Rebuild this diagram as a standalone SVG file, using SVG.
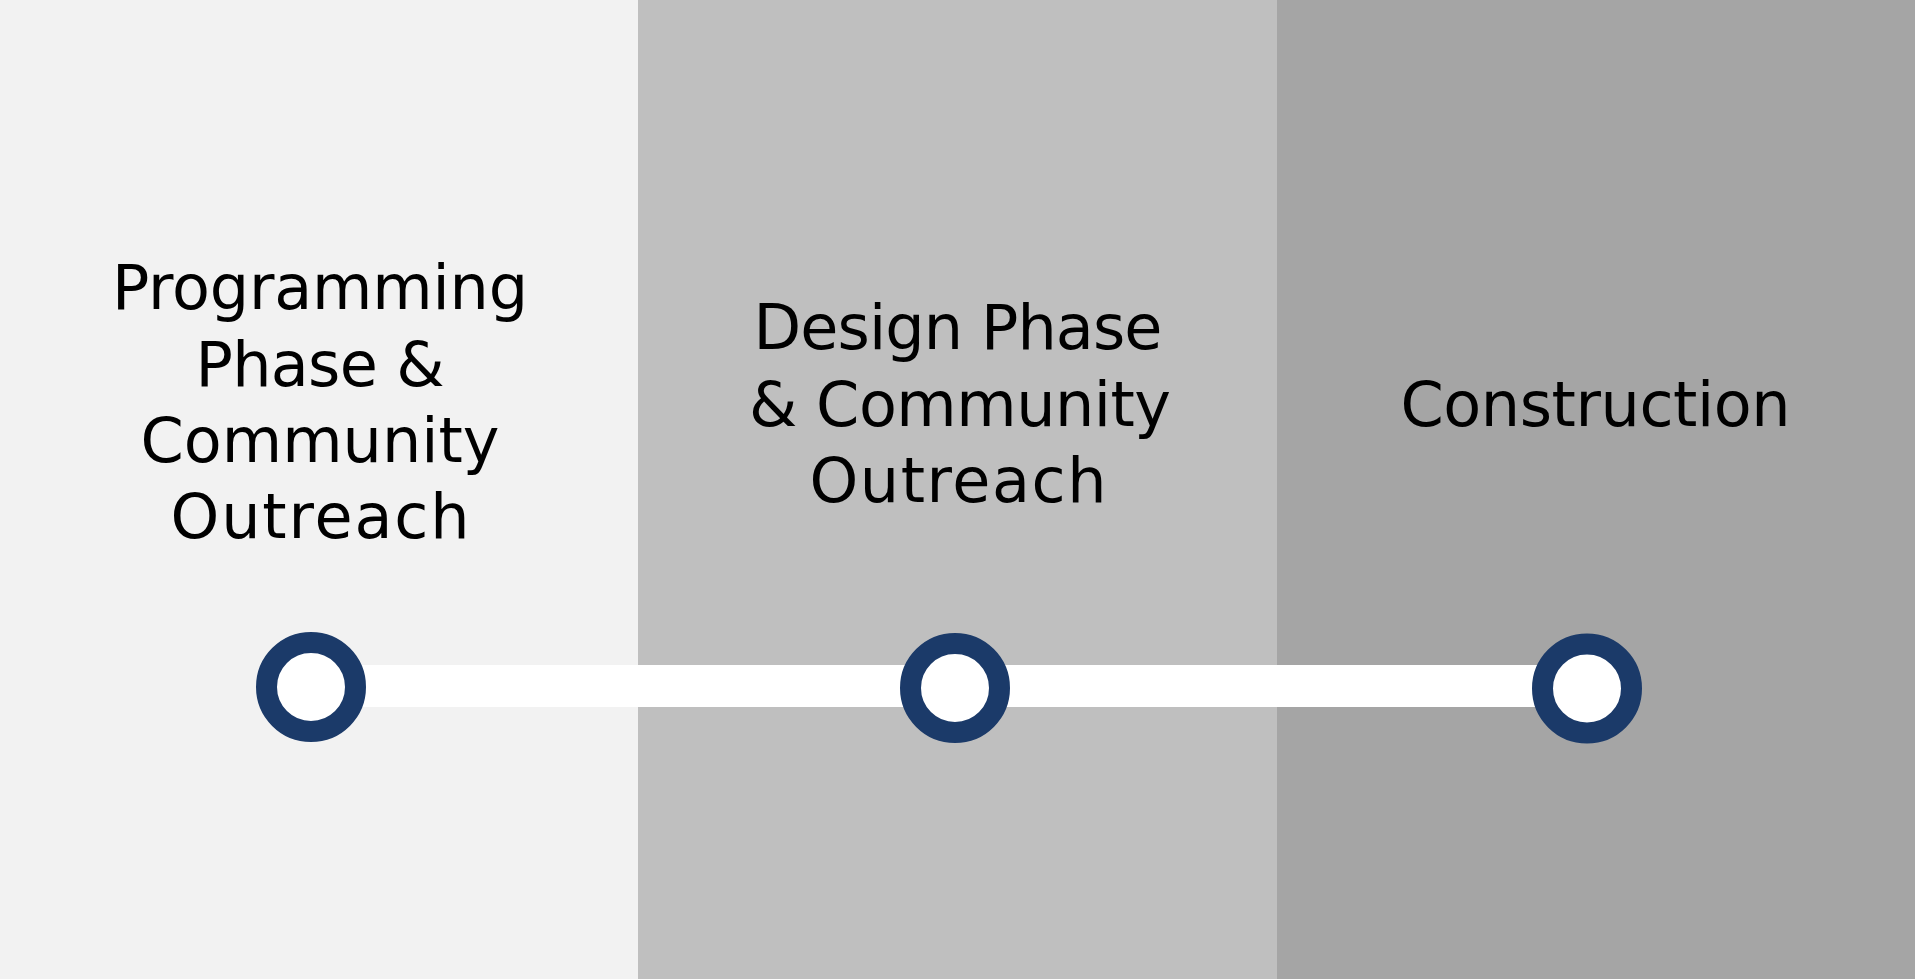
<svg xmlns="http://www.w3.org/2000/svg" width="1915" height="979" viewBox="0 0 1915 979">
  <style>
    .lbl { font-family: "DejaVu Sans", "Liberation Sans", sans-serif; font-size: 62px; fill: #000000; text-anchor: middle; }
    .ring { fill: #FFFFFF; stroke: #1B3A69; stroke-width: 21; }
  </style>
  <g id="background">
    <rect x="0" y="0" width="638" height="979" fill="#F2F2F2"/>
    <rect x="638" y="0" width="639" height="979" fill="#BFBFBF"/>
    <rect x="1277" y="0" width="638" height="979" fill="#A5A5A5"/>
  </g>
  <g id="connectors">
    <rect x="311" y="665" width="1276" height="42" fill="#FFFFFF"/>
  </g>
  <g id="node-programming">
    <text class="lbl" x="320" y="309" textLength="416" lengthAdjust="spacing">Programming</text>
    <text class="lbl" x="320" y="386" textLength="249" lengthAdjust="spacing">Phase &amp;</text>
    <text class="lbl" x="320" y="462" textLength="359" lengthAdjust="spacing">Community</text>
    <text class="lbl" x="320" y="538" textLength="299" lengthAdjust="spacing">Outreach</text>
    <circle class="ring" cx="311" cy="687" r="44.5"/>
  </g>
  <g id="node-design">
    <text class="lbl" x="958" y="349" textLength="409" lengthAdjust="spacing">Design Phase</text>
    <text class="lbl" x="960" y="426" textLength="422" lengthAdjust="spacing">&amp; Community</text>
    <text class="lbl" x="958" y="502" textLength="297" lengthAdjust="spacing">Outreach</text>
    <circle class="ring" cx="955" cy="688" r="44.5"/>
  </g>
  <g id="node-construction">
    <text class="lbl" x="1595.5" y="426" textLength="390" lengthAdjust="spacing">Construction</text>
    <circle class="ring" cx="1587" cy="688.5" r="44.5"/>
  </g>
</svg>
